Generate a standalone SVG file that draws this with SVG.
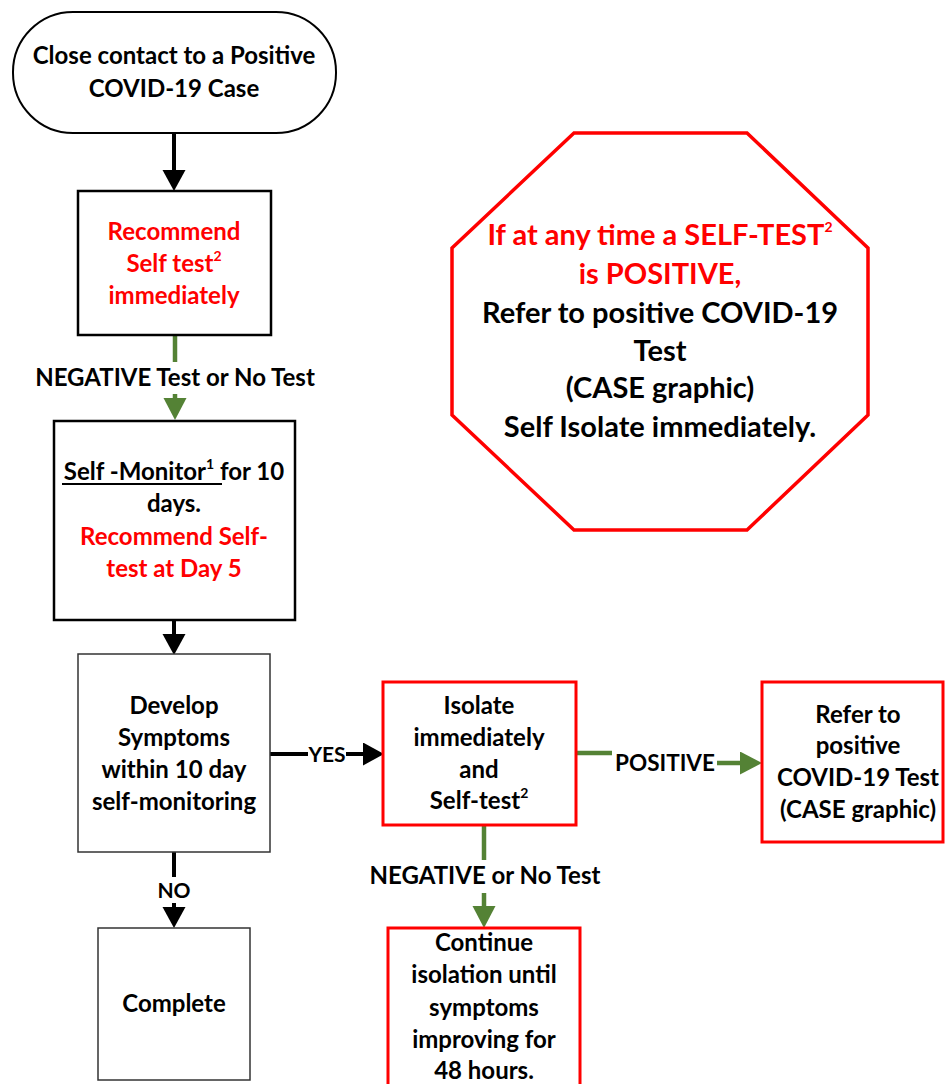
<svg xmlns="http://www.w3.org/2000/svg" width="945" height="1084" viewBox="0 0 945 1084">
<defs>
<style>
text{font-family:Lato,"Liberation Sans",sans-serif;font-weight:bold;font-size:24px;fill:#000;text-anchor:middle}
.red{fill:#FF0000}
.sup{font-size:14px}
.lbl{font-size:21px}
.pos{font-size:22.5px}
.oct{font-size:29px}
.box{fill:#fff;stroke:#000;stroke-width:2.5}
.thin{fill:#fff;stroke:#333;stroke-width:1.5}
.rbox{fill:#fff;stroke:#FF0000;stroke-width:3}
.blk{stroke:#000;stroke-width:4;fill:none}
.grn{stroke:#548235;stroke-width:4.5;fill:none}
</style>
<marker id="ab" markerUnits="userSpaceOnUse" markerWidth="22" markerHeight="24" refX="0" refY="11.5" orient="auto"><path d="M0,0 L21,11.5 L0,23 Z" fill="#000"/></marker>
<marker id="ag" markerUnits="userSpaceOnUse" markerWidth="24" markerHeight="24" refX="0" refY="11.5" orient="auto"><path d="M0,0 L22,11.5 L0,23 Z" fill="#548235"/></marker>
</defs>
<rect width="945" height="1084" fill="#fff"/>

<g id="connectors">
<line class="blk" x1="174" y1="133" x2="174" y2="170" marker-end="url(#ab)"/>
<line class="grn" x1="175" y1="335" x2="175" y2="362"/>
<line class="grn" x1="175" y1="394" x2="175" y2="398" marker-end="url(#ag)"/>
<line class="blk" x1="174" y1="620" x2="174" y2="634" marker-end="url(#ab)"/>
<line class="blk" x1="270" y1="754" x2="308" y2="754"/>
<line class="blk" x1="346" y1="754" x2="363" y2="754" marker-end="url(#ab)"/>
<line class="blk" x1="174" y1="852" x2="174" y2="877"/>
<line class="blk" x1="174" y1="903" x2="174" y2="907" marker-end="url(#ab)"/>
<line class="grn" x1="484" y1="826" x2="484" y2="860"/>
<line class="grn" x1="484" y1="893" x2="484" y2="906" marker-end="url(#ag)"/>
<line class="grn" x1="576" y1="753" x2="612" y2="753"/>
<line class="grn" x1="717" y1="763" x2="740" y2="763" marker-end="url(#ag)"/>
<text x="175" y="386">NEGATIVE Test or No Test</text>
<text class="lbl" x="327" y="762">YES</text>
<text class="lbl" x="174" y="898">NO</text>
<text x="485" y="884">NEGATIVE or No Test</text>
<text class="pos" x="665" y="771">POSITIVE</text>
</g>

<g id="start">
<rect x="13" y="12" width="323" height="121" rx="60" ry="60" fill="#fff" stroke="#000" stroke-width="2"/>
<text x="174" y="64">Close contact to a Positive</text>
<text x="174" y="97">COVID-19 Case</text>
</g>

<g id="recommend">
<rect class="box" x="78" y="191" width="193" height="144"/>
<text class="red" x="174" y="240">Recommend</text>
<text class="red" x="174" y="272">Self test<tspan class="sup" dy="-11">2</tspan></text>
<text class="red" x="174" y="304">immediately</text>
</g>

<g id="selfmonitor">
<rect class="box" x="54" y="421" width="241" height="199" stroke-width="3"/>
<text x="174" y="480">Self -Monitor<tspan class="sup" dy="-11">1</tspan><tspan dy="11"> for 10</tspan></text>
<line x1="62" y1="484" x2="222" y2="484" stroke="#000" stroke-width="2"/>
<text x="174" y="512">days.</text>
<text class="red" x="174" y="545">Recommend Self-</text>
<text class="red" x="174" y="577">test at Day 5</text>
</g>

<g id="develop">
<rect class="thin" x="78" y="654" width="192" height="198"/>
<text x="174" y="714">Develop</text>
<text x="174" y="746">Symptoms</text>
<text x="174" y="778">within 10 day</text>
<text x="174" y="810">self-monitoring</text>
</g>

<g id="isolate">
<rect class="rbox" x="383" y="682" width="193" height="143"/>
<text x="479" y="714">Isolate</text>
<text x="479" y="746">immediately</text>
<text x="479" y="778">and</text>
<text x="479" y="809">Self-test<tspan class="sup" dy="-11">2</tspan></text>
</g>

<g id="refer">
<rect class="rbox" x="762" y="682" width="181" height="160"/>
<text x="858" y="723">Refer to</text>
<text x="858" y="754">positive</text>
<text x="858" y="786">COVID-19 Test</text>
<text x="858" y="818">(CASE graphic)</text>
</g>

<g id="complete">
<rect class="thin" x="98" y="928" width="152" height="152"/>
<text x="174" y="1012">Complete</text>
</g>

<g id="continue">
<rect class="rbox" x="388" y="928" width="192" height="170"/>
<text x="484" y="951">Continue</text>
<text x="484" y="983">isolation until</text>
<text x="484" y="1016">symptoms</text>
<text x="484" y="1048">improving for</text>
<text x="484" y="1079">48 hours.</text>
</g>

<g id="stop">
<polygon points="574,133 747,133 868,248 868,415 747,530 574,530 452,415 452,248" fill="#fff" stroke="#FF0000" stroke-width="3.5"/>
<text class="oct red" x="660" y="245">If at any time a SELF-TEST<tspan class="sup" dy="-13">2</tspan></text>
<text class="oct red" x="660" y="284">is POSITIVE,</text>
<text class="oct" x="660" y="323">Refer to positive COVID-19</text>
<text class="oct" x="660" y="361">Test</text>
<text class="oct" x="660" y="398">(CASE graphic)</text>
<text class="oct" x="660" y="437">Self Isolate immediately.</text>
</g>
</svg>
